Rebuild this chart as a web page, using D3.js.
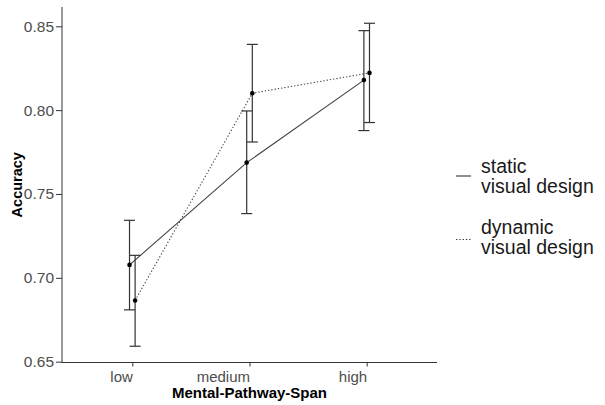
<!DOCTYPE html>
<html lang="en">
<head>
    <meta charset="UTF-8">
    <title>Accuracy by span</title>
    <script type="text/javascript" src="https://cdn.jsdelivr.net/npm/d3@7/dist/d3.min.js"></script>
    <style type="text/css">
        body { margin: 0; background: #fff; }
        text { font-family: "Liberation Sans", Arial, sans-serif; }
    </style>
</head>
<body>
    <script type="text/javascript">
        //Width and height
        var w = 605;
        var h = 405;

        // data
        var categories = ["low", "medium", "high"];
        var seriesNames = ["static\nvisual design", "dynamic\nvisual design"];
        var staticMean = [0.7077, 0.7687, 0.8179];
        var staticLow  = [0.6809, 0.7383, 0.7878];
        var staticHigh = [0.7343, 0.7995, 0.8474];
        var dynamicMean = [0.6865, 0.8101, 0.8222];
        var dynamicLow  = [0.6592, 0.7810, 0.7926];
        var dynamicHigh = [0.7134, 0.8392, 0.8518];
        var yTicks = [0.65, 0.70, 0.75, 0.80, 0.85];

        var series = [
            { name: seriesNames[0], dash: null, offset: -2.8,
              mean: staticMean, lo: staticLow, hi: staticHigh },
            { name: seriesNames[1], dash: "1.3,2", offset: 2.8,
              mean: dynamicMean, lo: dynamicLow, hi: dynamicHigh }
        ];

        //panel edges ("top" is taken by window.top)
        var pLeft = 62, pRight = 437, pTop = 7, pBottom = 362.5;

        //discrete x, ggplot-style expansion
        var xScale = d3.scalePoint()
            .domain(categories)
            .range([pLeft, pRight])
            .padding(0.6);

        var yScale = d3.scaleLinear()
            .domain([0.6495, 0.8615])
            .range([pBottom, pTop]);

        var svg = d3.select("body")
            .append("svg")
            .attr("width", w)
            .attr("height", h);

        //y axis
        var yAxis = svg.append("g")
            .attr("transform", "translate(" + pLeft + ",0)")
            .call(d3.axisLeft(yScale).tickValues(yTicks).tickFormat(d3.format(".2f")).tickSize(6).tickPadding(2));
        yAxis.select(".domain").attr("stroke", "#333").attr("d", "M0," + pTop + "V" + pBottom);
        yAxis.selectAll(".tick line").attr("stroke", "#333");
        yAxis.selectAll(".tick text")
            .attr("fill", "#4d4d4d")
            .attr("font-size", "15.5px")
            .attr("font-family", "Liberation Sans, Arial, sans-serif");

        //x axis - labels sit to the left of their tick, as in the original
        var xAxis = svg.append("g")
            .attr("transform", "translate(0," + pBottom + ")")
            .call(d3.axisBottom(xScale).tickSize(4));
        xAxis.select(".domain").attr("stroke", "#333").attr("d", "M" + pLeft + ",0H" + pRight);
        xAxis.selectAll(".tick line").attr("stroke", "#333");
        xAxis.selectAll(".tick text")
            .attr("y", 19)
            .attr("dy", null)
            .attr("x", 0)
            .attr("text-anchor", "end")
            .attr("fill", "#4d4d4d")
            .attr("font-size", "15px")
            .attr("font-family", "Liberation Sans, Arial, sans-serif");

        //axis titles
        svg.append("text")
            .attr("x", (pLeft + pRight) / 2)
            .attr("y", 398)
            .attr("text-anchor", "middle")
            .attr("font-size", "15px")
            .attr("font-weight", "bold")
            .text("Mental-Pathway-Span");

        svg.append("text")
            .attr("transform", "translate(22," + (pTop + pBottom) / 2 + ") rotate(-90)")
            .attr("text-anchor", "middle")
            .attr("font-size", "14.5px")
            .attr("font-weight", "bold")
            .text("Accuracy");

        //lines, error bars, points
        series.forEach(function(s) {
            var g = svg.append("g");
            var line = d3.line()
                .x(function(d, i) { return xScale(categories[i]) + s.offset; })
                .y(function(d) { return yScale(d); });

            g.append("path")
                .datum(s.mean)
                .attr("d", line)
                .attr("fill", "none")
                .attr("stroke", "#444")
                .attr("stroke-width", 1.1)
                .attr("stroke-dasharray", s.dash);

            var bars = g.selectAll(".eb")
                .data(categories)
                .enter()
                .append("g");
            bars.append("line")
                .attr("x1", function(d) { return xScale(d) + s.offset; })
                .attr("x2", function(d) { return xScale(d) + s.offset; })
                .attr("y1", function(d, i) { return yScale(s.lo[i]); })
                .attr("y2", function(d, i) { return yScale(s.hi[i]); });
            bars.append("line")
                .attr("x1", function(d) { return xScale(d) + s.offset - 5.5; })
                .attr("x2", function(d) { return xScale(d) + s.offset + 5.5; })
                .attr("y1", function(d, i) { return yScale(s.lo[i]); })
                .attr("y2", function(d, i) { return yScale(s.lo[i]); });
            bars.append("line")
                .attr("x1", function(d) { return xScale(d) + s.offset - 5.5; })
                .attr("x2", function(d) { return xScale(d) + s.offset + 5.5; })
                .attr("y1", function(d, i) { return yScale(s.hi[i]); })
                .attr("y2", function(d, i) { return yScale(s.hi[i]); });
            bars.selectAll("line")
                .attr("stroke", "#333")
                .attr("stroke-width", 1.2);

            g.selectAll("circle")
                .data(s.mean)
                .enter()
                .append("circle")
                .attr("cx", function(d, i) { return xScale(categories[i]) + s.offset; })
                .attr("cy", function(d) { return yScale(d); })
                .attr("r", 2.3)
                .attr("fill", "#000");
        });

        //legend
        var legend = svg.selectAll(".legend")
            .data(series)
            .enter()
            .append("g")
            .attr("transform", function(d, i) { return "translate(456," + (172.7 + i * 60.8) + ")"; });

        legend.append("line")
            .attr("x1", 0)
            .attr("x2", 15)
            .attr("y1", function(d, i) { return i === 0 ? 3.3 : 6; })
            .attr("y2", function(d, i) { return i === 0 ? 3.3 : 6; })
            .attr("stroke", "#333")
            .attr("stroke-width", 1.1)
            .attr("stroke-dasharray", function(d) { return d.dash; });

        legend.append("text")
            .attr("font-size", "19.5px")
            .attr("fill", "#1a1a1a")
            .selectAll("tspan")
            .data(function(d) { return d.name.split("\n"); })
            .enter()
            .append("tspan")
            .attr("x", 25)
            .attr("y", function(d, i) { return i * 20.7; })
            .text(function(d) { return d; });
    </script>
</body>
</html>
